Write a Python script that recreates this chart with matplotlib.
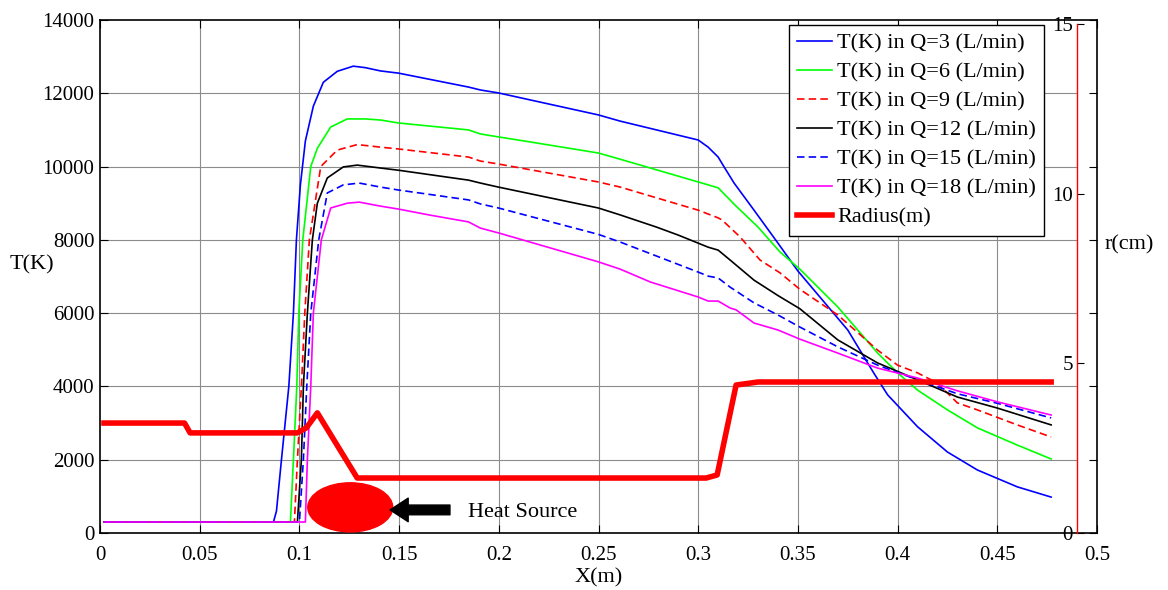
import matplotlib
matplotlib.use("Agg")
import matplotlib.pyplot as plt
from matplotlib.patches import Ellipse

plt.rcParams['font.family'] = ['Liberation Serif', 'DejaVu Serif']

# temperature along the torch axis for each gas flow rate
x_q3 = [0.002, 0.087, 0.0885, 0.091, 0.0947, 0.097, 0.0985, 0.1005, 0.103, 0.107, 0.112, 0.119,
        0.127, 0.133, 0.1407, 0.1497, 0.1848, 0.1908, 0.1998, 0.2499, 0.2609, 0.300, 0.305,
        0.310, 0.313, 0.318, 0.328, 0.340, 0.350, 0.375, 0.388, 0.395, 0.410, 0.425, 0.440,
        0.460, 0.477]
t_q3 = [300, 300, 600, 2000, 4000, 6000, 8000, 9500, 10700, 11650, 12300, 12600,
        12740, 12700, 12610, 12550, 12170, 12090, 12010, 11410, 11240, 10725, 10530,
        10260, 9990, 9550, 8810, 7910, 7150, 5540, 4370, 3770, 2900, 2210, 1720,
        1260, 980]

x_q6 = [0.002, 0.0955, 0.097, 0.0987, 0.0997, 0.1017, 0.1057, 0.109, 0.1157, 0.124, 0.133,
        0.1407, 0.1497, 0.1848, 0.1908, 0.1998, 0.216, 0.2499, 0.2609, 0.300, 0.310, 0.319,
        0.330, 0.341, 0.351, 0.370, 0.390, 0.400, 0.410, 0.425, 0.440, 0.460, 0.477]
t_q6 = [300, 300, 2000, 4000, 6000, 8000, 10000, 10500, 11080, 11300, 11300,
        11270, 11190, 11000, 10890, 10810, 10670, 10370, 10200, 9580, 9420, 8920,
        8350, 7670, 7200, 6170, 4910, 4370, 3900, 3360, 2870, 2400, 2020]

x_q9 = [0.002, 0.0975, 0.099, 0.101, 0.1027, 0.105, 0.1107, 0.119, 0.129, 0.1407, 0.1497,
        0.1848, 0.1908, 0.1998, 0.2499, 0.2609, 0.300, 0.310, 0.312, 0.321, 0.331, 0.341,
        0.351, 0.370, 0.390, 0.400, 0.410, 0.420, 0.430, 0.440, 0.460, 0.477]
t_q9 = [300, 300, 2000, 4000, 6000, 8000, 10000, 10450, 10600, 10530, 10480,
        10260, 10150, 10070, 9580, 9440, 8810, 8600, 8540, 8080, 7450, 7100,
        6650, 5950, 4990, 4580, 4370, 4090, 3550, 3360, 2950, 2620]

x_q12 = [0.002, 0.099, 0.101, 0.102, 0.104, 0.1065, 0.109, 0.114, 0.122, 0.129, 0.1407,
         0.1497, 0.1848, 0.1908, 0.1998, 0.2499, 0.2609, 0.279, 0.290, 0.300, 0.305, 0.310,
         0.316, 0.328, 0.340, 0.351, 0.370, 0.390, 0.410, 0.430, 0.450, 0.477]
t_q12 = [300, 300, 2000, 4000, 6000, 8000, 9000, 9690, 9990, 10040, 9960,
         9900, 9630, 9550, 9440, 8870, 8680, 8350, 8130, 7910, 7800, 7720,
         7450, 6900, 6480, 6120, 5270, 4640, 4180, 3710, 3410, 2950]

x_q15 = [0.002, 0.100, 0.102, 0.1037, 0.1057, 0.1097, 0.114, 0.122, 0.130, 0.1407, 0.1497,
         0.1848, 0.1908, 0.1998, 0.2499, 0.2609, 0.300, 0.305, 0.310, 0.316, 0.328, 0.340,
         0.351, 0.370, 0.390, 0.410, 0.430, 0.450, 0.477]
t_q15 = [300, 300, 2000, 4000, 6000, 8000, 9280, 9500, 9550, 9440, 9360,
         9090, 8980, 8870, 8150, 7940, 7120, 7010, 6960, 6710, 6280, 5950,
         5620, 5080, 4580, 4180, 3800, 3540, 3140]

x_q18 = [0.002, 0.103, 0.104, 0.1057, 0.107, 0.111, 0.1157, 0.124, 0.130, 0.1407, 0.1497,
         0.165, 0.1848, 0.1908, 0.1998, 0.2499, 0.2609, 0.276, 0.300, 0.305, 0.310, 0.316,
         0.319, 0.328, 0.340, 0.351, 0.370, 0.390, 0.410, 0.430, 0.450, 0.477]
t_q18 = [300, 300, 2000, 4000, 6000, 8000, 8870, 9000, 9030, 8920, 8840,
         8680, 8490, 8320, 8190, 7400, 7200, 6850, 6440, 6330, 6330, 6140,
         6090, 5730, 5540, 5290, 4910, 4500, 4230, 3880, 3580, 3220]

# plasma radius in cm (right axis)
x_radius = [0.002, 0.0424, 0.0452, 0.099, 0.1035, 0.109, 0.129, 0.304, 0.3095, 0.319, 0.330, 0.477]
r_radius = [3.24, 3.24, 2.95, 2.95, 3.10, 3.54, 1.62, 1.62, 1.71, 4.36, 4.45, 4.45]

flow_labels = ['T(K) in Q=3 (L/min)', 'T(K) in Q=6 (L/min)', 'T(K) in Q=9 (L/min)',
               'T(K) in Q=12 (L/min)', 'T(K) in Q=15 (L/min)', 'T(K) in Q=18 (L/min)']
flow_colors = ['#0000ff', '#00ff00', '#ff0000', '#000000', '#0000ff', '#ff00ff']
flow_styles = ['-', '-', (0, (4.5, 2.5)), '-', (0, (4.5, 2.5)), '-']

x_ticks = [0, 0.05, 0.1, 0.15, 0.2, 0.25, 0.3, 0.35, 0.4, 0.45, 0.5]
x_tick_labels = ['0', '0.05', '0.1', '0.15', '0.2', '0.25', '0.3', '0.35', '0.4', '0.45', '0.5']
t_ticks = [0, 2000, 4000, 6000, 8000, 10000, 12000, 14000]
r_ticks = [0, 5, 10, 15]

W, H = 1168, 590
fig = plt.figure(figsize=(W / 100, H / 100), dpi=100)
ax = fig.add_axes([100 / W, 57 / H, 997 / W, 513 / H])
ax.set_xlim(0, 0.5)
ax.set_ylim(0, 14000)

r_axis_x = 0.49
grid_kw = dict(color='0.55', lw=0.8, zorder=0.5)
ax.hlines(t_ticks[1:-1], 0, r_axis_x, **grid_kw)
ax.vlines(x_ticks[1:-1], 0, 14000, **grid_kw)

xs = [x_q3, x_q6, x_q9, x_q12, x_q15, x_q18]
ts = [t_q3, t_q6, t_q9, t_q12, t_q15, t_q18]
handles = []
for x, t, c, ls, lab in zip(xs, ts, flow_colors, flow_styles, flow_labels):
    h, = ax.plot(x, t, color=c, ls=ls, lw=1.2, label=lab)
    handles.append(h)

# heat source marker
ax.add_patch(Ellipse((0.1255, 700), 0.0426, 1340, color='red', zorder=3))
ax.annotate('', xy=(0.1455, 630), xytext=(0.1755, 630),
            arrowprops=dict(facecolor='black', edgecolor='black', width=7,
                            headwidth=17, headlength=13, shrink=0))
ax.text(0.1845, 560, 'Heat Source', fontsize=16, va='center', ha='left')

ax.set_xticks(x_ticks)
ax.set_xticklabels(x_tick_labels)
ax.set_yticks(t_ticks)
ax.set_xlabel('X(m)', fontsize=16, labelpad=3)

ax2 = ax.twinx()
ax2.set_ylim(0, 15 * 513 / 509)
hr, = ax2.plot(x_radius, r_radius, color='#ff0000', lw=4, label='Radius(m)')
handles.append(hr)
for s in ['top', 'right', 'bottom']:
    ax2.spines[s].set_visible(False)
ax2.spines['left'].set_visible(True)
ax2.spines['left'].set_position(('data', r_axis_x))
ax2.spines['left'].set_color('red')
ax2.spines['left'].set_linewidth(1.0)
ax2.spines['left'].set_bounds(0, 15)
ax2.yaxis.set_ticks_position('left')
ax2.set_yticks(r_ticks)
ax2.tick_params(axis='y', direction='in', length=5, width=0.8, labelsize=15, pad=3)

ax.tick_params(direction='in', top=True, right=True, length=6, width=0.8, labelsize=15)
ax.tick_params(axis='x', pad=9)
ax.tick_params(axis='y', pad=4)
for s in ax.spines.values():
    s.set_linewidth(1.2)

leg = ax2.legend(handles, [h.get_label() for h in handles], loc='upper right',
                 bbox_to_anchor=(0.947, 0.990), borderaxespad=0, fontsize=16,
                 fancybox=False, edgecolor='black', framealpha=1, labelspacing=0.38,
                 handlelength=1.6, handletextpad=0.22, borderpad=0.36)
leg.get_frame().set_linewidth(1.0)

fig.text(10 / W, 1 - 265 / H, 'T(K)', fontsize=16, va='center', ha='left')
fig.text(1105 / W, 1 - 245 / H, 'r(cm)', fontsize=16, va='center', ha='left')

fig.savefig('out.png', dpi=100)
